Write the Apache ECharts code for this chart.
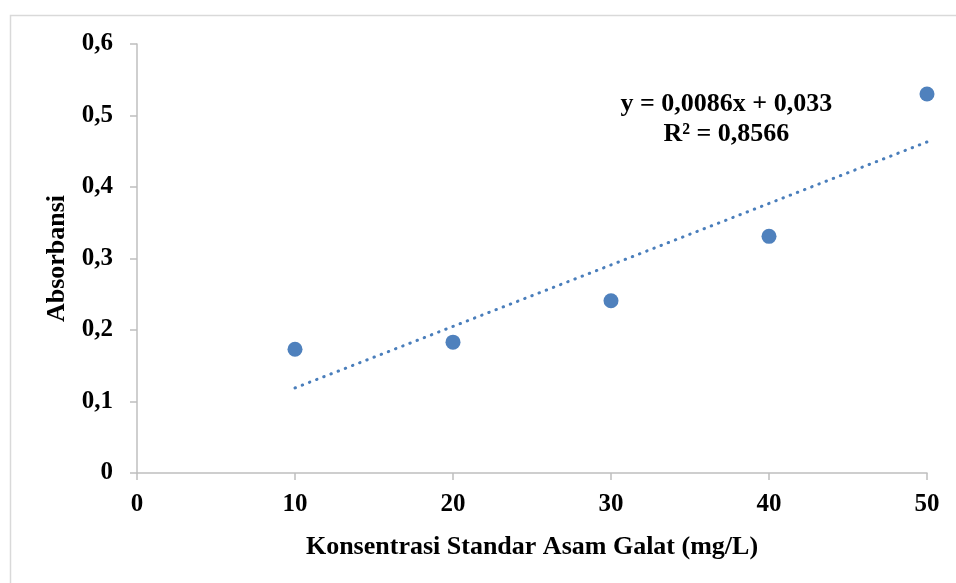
<!DOCTYPE html>
<html>
<head>
<meta charset="utf-8">
<script src="https://cdn.jsdelivr.net/npm/echarts@6/dist/echarts.min.js"></script>
<style>
html,body{margin:0;padding:0;background:#fff;}
#c{width:956px;height:583px;}
</style>
</head>
<body>
<div id="c"></div>
<script>
const concentrations = [10, 20, 30, 40, 50];
const absorbances = [0.173, 0.183, 0.241, 0.331, 0.530];
const trendX = [10, 50];
const trendY = [0.119, 0.463];
const equationLines = ['y = 0,0086x + 0,033', 'R² = 0,8566'];
const xTitle = 'Konsentrasi Standar Asam Galat (mg/L)';
const yTitle = 'Absorbansi';

const font = '"Liberation Serif", "Times New Roman", serif';
const comma = v => String(v).replace('.', ',');

const chart = echarts.init(document.getElementById('c'));
chart.setOption({
  animation: false,
  backgroundColor: '#fff',
  grid: {left: 137, right: 29, top: 44, bottom: 110},
  graphic: [
    {type: 'rect', shape: {x: 10.5, y: 15.5, width: 1200, height: 1200},
     style: {fill: 'none', stroke: '#d9d9d9', lineWidth: 1.5}, silent: true, z: -1}
  ],
  xAxis: {
    type: 'value', min: 0, max: 50, interval: 10,
    name: xTitle, nameLocation: 'middle', nameGap: 61,
    nameTextStyle: {fontFamily: font, fontWeight: 'bold', fontSize: 26, color: '#000'},
    axisLine: {show: true, lineStyle: {color: '#bfbfbf', width: 1.5}},
    axisTick: {show: true, length: 7, lineStyle: {color: '#bfbfbf', width: 1.5}},
    axisLabel: {fontFamily: font, fontWeight: 'bold', fontSize: 25, color: '#000', margin: 19},
    splitLine: {show: false}
  },
  yAxis: {
    type: 'value', min: 0, max: 0.6, interval: 0.1,
    name: yTitle, nameLocation: 'middle', nameGap: 67, nameRotate: 90,
    nameTextStyle: {fontFamily: font, fontWeight: 'bold', fontSize: 26, color: '#000'},
    axisLine: {show: true, lineStyle: {color: '#bfbfbf', width: 1.5}},
    axisTick: {show: true, length: 7, lineStyle: {color: '#bfbfbf', width: 1.5}},
    axisLabel: {fontFamily: font, fontWeight: 'bold', fontSize: 25, color: '#000', margin: 24,
      formatter: v => comma(Math.round(v * 10) / 10)},
    splitLine: {show: false}
  },
  series: [
    {
      type: 'line',
      data: trendX.map((x, i) => [x, trendY[i]]),
      showSymbol: false, symbol: 'none',
      lineStyle: {color: '#4a7ebb', width: 3, type: [0.5, 7.2], cap: 'round'},
      z: 1
    },
    {
      type: 'scatter',
      data: concentrations.map((x, i) => [x, absorbances[i]]),
      symbolSize: 15,
      itemStyle: {color: '#4f81bd', opacity: 1},
      z: 2,
      markPoint: {
        symbol: 'rect', symbolSize: 1, itemStyle: {color: 'transparent'},
        data: [
          {coord: [37.3, 0.515], label: {show: true, formatter: equationLines[0], fontFamily: font, fontWeight: 'bold', fontSize: 26, color: '#000'}},
          {coord: [37.3, 0.474], label: {show: true, formatter: equationLines[1], fontFamily: font, fontWeight: 'bold', fontSize: 26, color: '#000'}}
        ]
      }
    }
  ]
});
</script>
</body>
</html>
